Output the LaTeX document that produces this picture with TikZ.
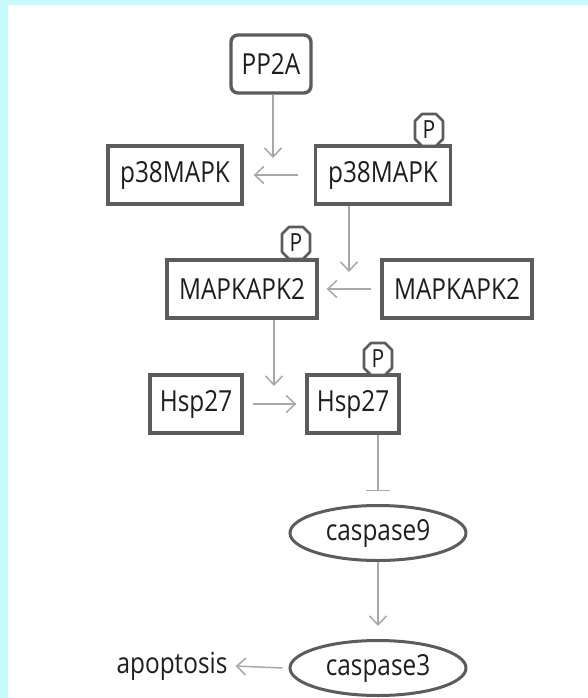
\documentclass[tikz,border=0pt]{standalone}
\usepackage{fontspec}
\setmainfont[FakeStretch=0.84]{Open Sans}
\usetikzlibrary{arrows.meta,shapes.geometric}
\definecolor{bordergray}{HTML}{5C5C5C}
\definecolor{arrowgray}{HTML}{A8A8A8}
\definecolor{bgcyan}{HTML}{C8FCFC}
\definecolor{txt}{HTML}{1E1E1E}
\tikzset{
  prot/.style={draw=bordergray, line width=3.4pt, fill=white, inner sep=0pt,
    minimum height=58pt, text=txt, font=\fontsize{29}{32}\selectfont},
  rprot/.style={prot, rounded corners=7pt},
  casp/.style={ellipse, draw=bordergray, line width=3pt, fill=white, inner sep=0pt,
    minimum width=176pt, minimum height=55pt, text=txt, font=\fontsize{29}{32}\selectfont},
  plain/.style={inner sep=0pt, text=txt, font=\fontsize{29}{32}\selectfont},
  ptext/.style={inner sep=0pt, text=txt, font=\fontsize{25}{27}\selectfont},
  octline/.style={draw=bordergray, line width=2.6pt, fill=white, line join=round},
  act/.style={draw=arrowgray, line width=1.5pt, -{Straight Barb[length=9pt,width=17pt,line width=1.5pt]}},
  inh/.style={draw=arrowgray, line width=1.5pt, -{Bar[width=24pt,line width=1.5pt]}},
}
\newcommand\octagonat[1]{%
  \path[octline] ([shift={(-7,-16)}]#1) -- ([shift={(7,-16)}]#1) -- ([shift={(14,-9)}]#1)
    -- ([shift={(14,9)}]#1) -- ([shift={(7,16)}]#1) -- ([shift={(-7,16)}]#1)
    -- ([shift={(-14,9)}]#1) -- ([shift={(-14,-9)}]#1) -- cycle;}
\begin{document}
\begin{tikzpicture}[x=1pt,y=-1pt]
\useasboundingbox (0,0) rectangle (588,698);
\fill[bgcyan] (0,0) rectangle (588,698);
\fill[white] (8,5) rectangle (588,698);

\node[rprot, minimum width=80pt] (pp2a) at (271,64) {PP2A};
\node[prot, minimum width=134pt] (p38a) at (175,175) {p38MAPK};
\node[prot, minimum width=135pt] (p38b) at (383,175) {p38MAPK};
\coordinate (pAc) at (429,130);
\octagonat{pAc}
\node[ptext] (pA) at (pAc) {P};

\node[prot, minimum width=150pt] (mkA) at (242,289) {MAPKAPK2};
\node[prot, minimum width=150pt] (mkB) at (457,289) {MAPKAPK2};
\coordinate (pBc) at (296,243);
\octagonat{pBc}
\node[ptext] (pB) at (pBc) {P};

\node[prot, minimum width=92pt] (hspA) at (196,404) {Hsp27};
\node[prot, minimum width=92pt] (hspB) at (353,404) {Hsp27};
\coordinate (pCc) at (378,359);
\octagonat{pCc}
\node[ptext] (pC) at (pCc) {P};

\node[casp] (c9) at (378,533) {caspase9};
\node[casp] (c3) at (378,668) {caspase3};
\node[plain] (apo) at (172,666) {apoptosis};

% connectors
\coordinate (a1s) at (pp2a.south -| 273,0);
\coordinate (a1e) at (273,158);
\draw[act] (a1s) -- (a1e);
\coordinate (a2s) at ([xshift=-16pt]p38b.west);
\coordinate (a2e) at ([xshift=10pt]p38a.east);
\draw[act] (a2s) -- (a2e);
\coordinate (a3s) at (p38b.south -| 349,0);
\coordinate (a3e) at (349,272);
\draw[act] (a3s) -- (a3e);
\coordinate (a4s) at ([xshift=-9pt]mkB.west);
\coordinate (a4e) at ([xshift=8pt]mkA.east);
\draw[act] (a4s) -- (a4e);
\coordinate (a5s) at (mkA.south -| 274,0);
\coordinate (a5e) at (274,386);
\draw[act] (a5s) -- (a5e);
\coordinate (a6s) at ([xshift=9pt]hspA.east);
\coordinate (a6e) at ([xshift=-9pt]hspB.west);
\draw[act] (a6s) -- (a6e);
\coordinate (i1s) at (hspB.south -| 378,0);
\coordinate (i1e) at (378,491);
\draw[inh] (i1s) -- (i1e);
\coordinate (a7e) at ([yshift=13pt]c3.north);
\draw[act] (c9.south) -- (a7e);
\coordinate (a8s) at ([xshift=-6pt]c3.west);
\coordinate (a8e) at ([xshift=8pt]apo.east);
\draw[act] (a8s) -- (a8e);
\end{tikzpicture}
\end{document}
